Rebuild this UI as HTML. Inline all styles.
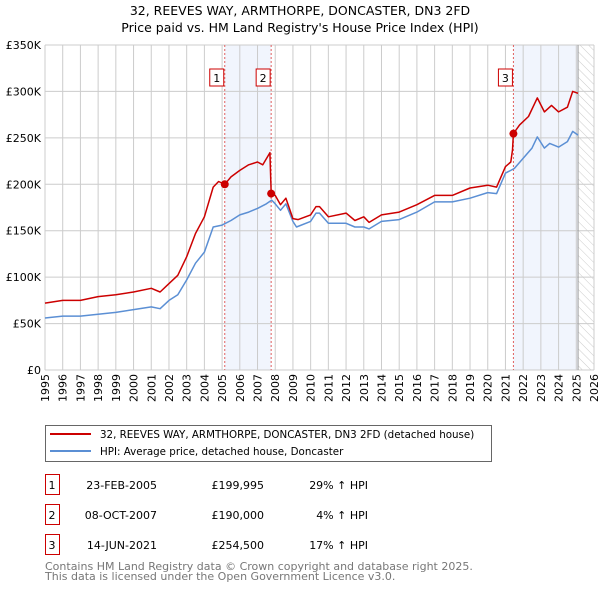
<!DOCTYPE html>
<html><head><meta charset="utf-8"><style>
body{margin:0;background:#fff;font-family:"DejaVu Sans","Liberation Sans",sans-serif;}
svg text{font-family:"DejaVu Sans","Liberation Sans",sans-serif;}
</style></head><body>
<svg id="chart" width="600" height="590" viewBox="0 0 600 590" xmlns="http://www.w3.org/2000/svg">
<defs><pattern id="hatch" width="6" height="6" patternUnits="userSpaceOnUse" patternTransform="rotate(-45)"><line x1="0" y1="0" x2="0" y2="6" stroke="#ccc" stroke-width="1"/></pattern></defs>
<text x="300" y="15" text-anchor="middle" font-size="12.5">32, REEVES WAY, ARMTHORPE, DONCASTER, DN3 2FD</text>
<text x="300" y="32" text-anchor="middle" font-size="12.5">Price paid vs. HM Land Registry's House Price Index (HPI)</text>
<g id="plot"></g>
<g>
<rect x="45.5" y="425.5" width="446" height="36" fill="#fff" stroke="#666"/>
<line x1="50" y1="434" x2="91" y2="434" stroke="#cc0000" stroke-width="2"/>
<text x="100" y="438" font-size="10.3">32, REEVES WAY, ARMTHORPE, DONCASTER, DN3 2FD (detached house)</text>
<line x1="50" y1="451" x2="91" y2="451" stroke="#5b8fd4" stroke-width="2"/>
<text x="100" y="455" font-size="10.3">HPI: Average price, detached house, Doncaster</text>
</g>
<g id="table"></g>
<text x="45" y="570" font-size="11" fill="#777">Contains HM Land Registry data © Crown copyright and database right 2025.</text>
<text x="45" y="580" font-size="11" fill="#777">This data is licensed under the Open Government Licence v3.0.</text>
</svg>
<script>
const hpiYears=[1995,1996,1997,1998,1999,2000,2001,2001.5,2002,2002.5,2003,2003.5,2004,2004.5,2005,2005.5,2006,2006.5,2007,2007.5,2007.8,2008,2008.3,2008.6,2009,2009.2,2010,2010.3,2010.5,2011,2012,2012.5,2013,2013.3,2014,2015,2016,2017,2018,2019,2020,2020.5,2021,2021.5,2022,2022.5,2022.8,2023.2,2023.5,2024,2024.5,2024.8,2025.1];
const hpiValues=[56,58,58,60,62,65,68,66,75,81,97,115,127,154,156,161,167,170,174,179,183,179,172,179,160,154,160,169,169,158,158,154,154,152,160,162,170,181,181,185,191,190,212,217,228,239,251,239,244,240,246,257,253];
const priceYears=[1995,1996,1997,1998,1999,2000,2001,2001.5,2002,2002.5,2003,2003.5,2004,2004.5,2004.8,2005.15,2005.5,2006,2006.5,2007,2007.3,2007.7,2007.77,2008,2008.3,2008.6,2009,2009.3,2010,2010.3,2010.5,2011,2012,2012.5,2013,2013.3,2014,2015,2016,2017,2018,2019,2020,2020.5,2021,2021.3,2021.4,2021.45,2021.8,2022.3,2022.8,2023.2,2023.6,2024,2024.5,2024.8,2025.1];
const priceValues=[72,75,75,79,81,84,88,84,93,102,122,147,165,197,203,200,208,215,221,224,221,234,190,188,178,185,163,162,167,176,176,165,169,161,165,159,167,170,178,188,188,196,199,197,219,224,237,254.5,264,273,293,278,285,278,283,300,298];
const saleLabels=["1","2","3"];
const saleYears=[2005.15,2007.77,2021.45];
const saleValues=[199.995,190,254.5];
const saleDates=["23-FEB-2005","08-OCT-2007","14-JUN-2021"];
const salePrices=["£199,995","£190,000","£254,500"];
const saleDiffs=["29% ↑ HPI","4% ↑ HPI","17% ↑ HPI"];
const yTicks=[0,50,100,150,200,250,300,350];
const yTickLabels=["£0","£50K","£100K","£150K","£200K","£250K","£300K","£350K"];
const xTicks=[];for(let y=1995;y<=2026;y++)xTicks.push(y);
const dataEnd=2025.1;
const X0=45,X1=594,Y0=370,Y1=45;
const xs=v=>X0+(v-1995)/(2026-1995)*(X1-X0);
const ys=v=>Y0-v/350*(Y0-Y1);
const NS="http://www.w3.org/2000/svg";
const plot=document.getElementById('plot');
function mk(tag,attrs,parent){const e=document.createElementNS(NS,tag);for(const k in attrs)e.setAttribute(k,attrs[k]);(parent||plot).appendChild(e);return e;}
let e=mk('rect',{x:X0,y:Y1,width:X1-X0,height:Y0-Y1,fill:'#fff'});


e=mk('rect',{x:xs(saleYears[0]),y:Y1,width:xs(saleYears[1])-xs(saleYears[0]),height:Y0-Y1,fill:'#eef3fc',opacity:0.8});


e=mk('rect',{x:xs(saleYears[2]),y:Y1,width:xs(dataEnd)-xs(saleYears[2]),height:Y0-Y1,fill:'#eef3fc',opacity:0.8});


e=mk('rect',{x:xs(dataEnd),y:Y1,width:X1-xs(dataEnd),height:Y0-Y1,fill:'url(#hatch)'});


xTicks.forEach(t=>{const l=mk('line',{x1:xs(t),x2:xs(t),y1:Y1,y2:Y0,stroke:'#ccc','stroke-width':1});


const tx=mk('text',{x:0,y:0,'font-size':11,'text-anchor':'end',transform:`translate(${xs(t)+4},${Y0+4}) rotate(-90)`});
tx.textContent=t;

});
yTicks.forEach((t,i)=>{const l=mk('line',{x1:X0,x2:X1,y1:ys(t),y2:ys(t),stroke:'#ccc','stroke-width':1});


const tx=mk('text',{x:X0-4,y:ys(t)+4,'font-size':11,'text-anchor':'end'});
tx.textContent=yTickLabels[i];

});
e=mk('line',{x1:xs(dataEnd),x2:xs(dataEnd),y1:Y1,y2:Y0,stroke:'#999','stroke-width':1});


saleYears.forEach((s,i)=>{const l=mk('line',{x1:xs(s),x2:xs(s),y1:Y1,y2:Y0,stroke:'#e06060','stroke-width':1,'stroke-dasharray':'2,2'});

});
function path(xv,yv,col,name){const d=xv.map((v,i)=>(i?'L':'M')+xs(v).toFixed(1)+','+ys(yv[i]).toFixed(1)).join('');
const p=mk('path',{d:d,fill:'none',stroke:col,'stroke-width':1.5,'stroke-linejoin':'round'});

}
path(hpiYears,hpiValues,'#5b8fd4','hpi-line');
path(priceYears,priceValues,'#cc0000','price-line');
saleYears.forEach((s,i)=>{const c=mk('circle',{cx:xs(s),cy:ys(saleValues[i]),r:4,fill:'#cc0000'});


const b=mk('rect',{x:xs(s)-15,y:69,width:14,height:17,fill:'#fff',stroke:'#cc0000'});


const t=mk('text',{x:xs(s)-8,y:82,'font-size':11,'text-anchor':'middle'});
t.textContent=saleLabels[i];

});
const tb=document.getElementById('table');
saleLabels.forEach((s,i)=>{const y=483+i*30;
const r=mk('rect',{x:45.5,y:y-8.5,width:14,height:20,fill:'#fff',stroke:'#cc0000'},tb);


const cols=[[52,s,'middle'],[157,saleDates[i],'end'],[264,salePrices[i],'end'],[368,saleDiffs[i],'end']];
cols.forEach(c=>{const t=mk('text',{x:c[0],y:y+6,'font-size':11,'text-anchor':c[2]},tb);
t.textContent=c[1];

});});
</script>
</body></html>
